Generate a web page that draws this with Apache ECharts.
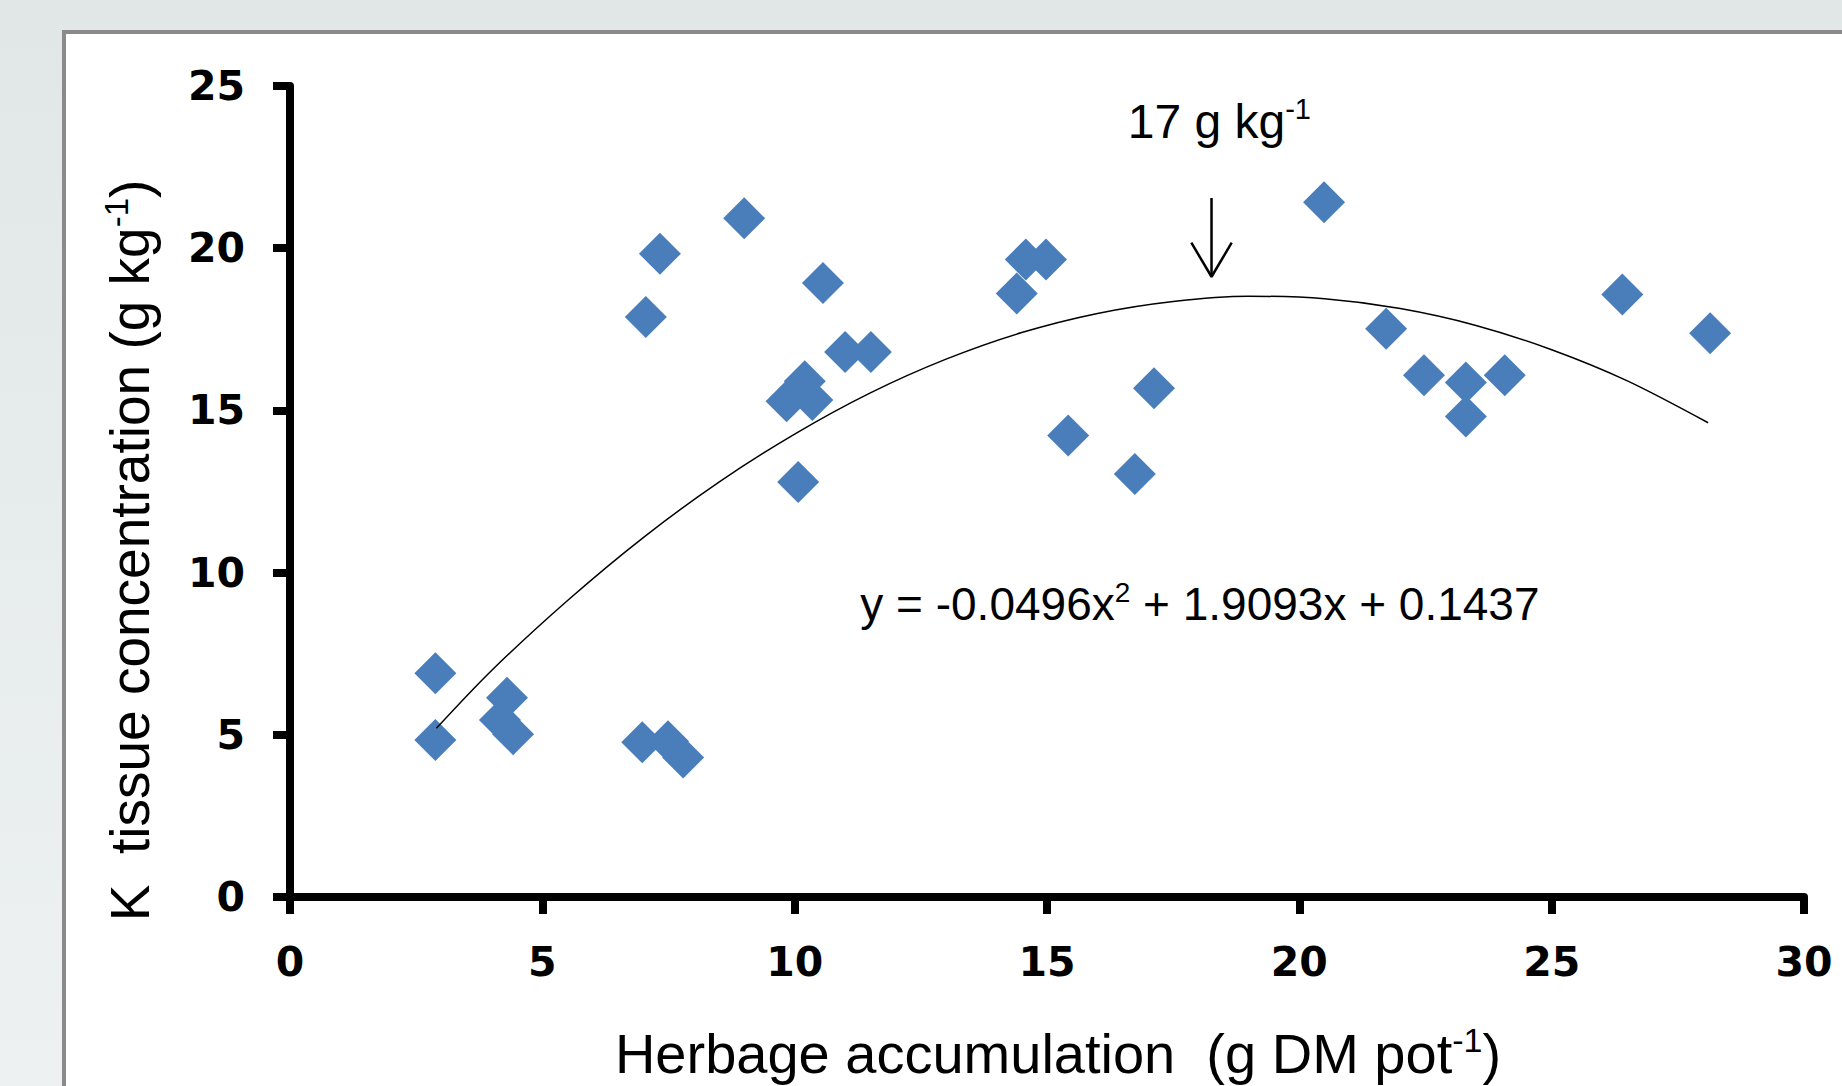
<!DOCTYPE html>
<html>
<head>
<meta charset="utf-8">
<script src="https://cdn.jsdelivr.net/npm/echarts@6/dist/echarts.min.js"></script>
<style>
  html, body { margin: 0; padding: 0; }
  body {
    width: 1842px; height: 1086px; overflow: hidden; position: relative;
    background: linear-gradient(to bottom, #e1e7e7, #edf1f1);
  }
  #panel {
    position: absolute; left: 62px; top: 30px; width: 1800px; height: 1100px;
    background: #fff; border-left: 4px solid #8a8a8a; border-top: 4px solid #8a8a8a;
  }
  #main { position: absolute; left: 0; top: 0; width: 1842px; height: 1086px; }
</style>
</head>
<body>
<div id="panel"></div>
<div id="main"></div>
<script>
// 散点：牧草积累量 x 与 K 组织浓度 y
const herbage = [2.88, 2.88, 4.30, 4.16, 4.42, 6.98, 7.49, 7.79, 7.05, 7.33, 9.0, 10.56,
  9.84, 10.2, 10.35, 10.07, 11.0, 11.51, 14.4, 14.58, 14.98, 15.42, 16.74, 17.12,
  20.49, 21.72, 22.47, 23.3, 23.3, 24.07, 26.4, 28.14];
const kConc = [6.9, 4.84, 6.14, 5.46, 5.02, 4.77, 4.8, 4.3, 17.88, 19.83, 20.92, 18.93,
  15.28, 15.9, 15.32, 12.79, 16.8, 16.8, 18.6, 19.65, 19.65, 14.23, 13.04, 15.68,
  21.42, 17.52, 16.08, 15.86, 14.81, 16.08, 18.57, 17.38];

// 趋势线上读出的点
const trendX = [2.9, 4, 5.5, 7, 8.5, 10, 11.5, 13, 14.5, 16, 17.5, 19, 20.5, 22, 23.5, 25, 26.5, 28.1];
const trendY = [5.2, 6.99, 9.14, 11.08, 12.79, 14.27, 15.54, 16.58, 17.4, 17.99, 18.36, 18.52,
  18.44, 18.14, 17.62, 16.87, 15.91, 14.62];

// 箭头（数据坐标）
const arrowShaft = [[18.26, 21.55], [18.26, 19.12]];
const arrowHead = [[17.86, 20.17], [18.26, 19.12], [18.66, 20.17]];

const peakLabel = '17 g kg';
const equation = 'y = -0.0496x';
const equationRest = ' + 1.9093x + 0.1437';

const chartDom = document.getElementById('main');
const myChart = echarts.init(chartDom, null, { renderer: 'svg' });

const axisFont = { fontFamily: 'DejaVu Sans', fontWeight: 'bold', fontSize: 41, color: '#000' };
const nameFont = 'Liberation Sans, Arial, sans-serif';

const option = {
  animation: false,
  backgroundColor: 'transparent',
  grid: { left: 290, right: 38, top: 86, bottom: 188 },
  xAxis: {
    type: 'value', min: 0, max: 30, interval: 5,
    splitLine: { show: false },
    axisLine: { onZero: false, lineStyle: { color: '#000', width: 8 } },
    axisTick: { length: 17, lineStyle: { color: '#000', width: 8 } },
    axisLabel: Object.assign({ margin: 44 }, axisFont),
    name: '{n|Herbage accumulation  (g DM pot}{s|-1}{n|)}',
    nameLocation: 'middle',
    nameGap: 126,
    nameTextStyle: {
      padding: [0, 0, 0, 22],
      rich: {
        n: { fontFamily: nameFont, fontSize: 56, color: '#000', lineHeight: 60 },
        s: { fontFamily: nameFont, fontSize: 34, color: '#000', verticalAlign: 'top', lineHeight: 60 }
      }
    }
  },
  yAxis: {
    type: 'value', min: 0, max: 25, interval: 5,
    splitLine: { show: false },
    axisLine: { onZero: false, lineStyle: { color: '#000', width: 8 } },
    axisTick: { length: 17, lineStyle: { color: '#000', width: 8 } },
    axisLabel: Object.assign({ margin: 45 }, axisFont),
    name: '{n|K  tissue concentration (g kg}{s|-1}{n|)}',
    nameLocation: 'middle',
    nameGap: 130,
    nameTextStyle: {
      padding: [0, 118, 0, 0],
      rich: {
        n: { fontFamily: nameFont, fontSize: 55, color: '#000', lineHeight: 60 },
        s: { fontFamily: nameFont, fontSize: 33, color: '#000', verticalAlign: 'top', lineHeight: 60 }
      }
    }
  },
  series: [
    {
      type: 'scatter',
      symbol: 'diamond',
      symbolSize: 42,
      itemStyle: { color: '#4a7ebb', opacity: 1 },
      data: herbage.map((x, i) => [x, kConc[i]]),
      z: 3
    },
    {
      type: 'line',
      smooth: 0.3,
      showSymbol: false,
      lineStyle: { color: '#000', width: 1.5 },
      data: trendX.map((x, i) => [x, trendY[i]]),
      z: 4
    },
    {
      type: 'line', showSymbol: false,
      lineStyle: { color: '#000', width: 2.5 },
      data: arrowShaft
    },
    {
      type: 'line', showSymbol: false,
      lineStyle: { color: '#000', width: 2.5 },
      data: arrowHead
    }
  ]
};

myChart.setOption(option);

// 文字注释按数据坐标定位
const p1 = myChart.convertToPixel({ gridIndex: 0 }, [16.6, 23.9]);
const p2 = myChart.convertToPixel({ gridIndex: 0 }, [11.3, 9.02]);
const annFont = 'Liberation Sans, Arial, sans-serif';
myChart.setOption({
  graphic: [
    {
      type: 'text', x: p1[0], y: p1[1],
      style: {
        text: '{n|' + peakLabel + '}{s|-1}',
        verticalAlign: 'middle', align: 'left',
        rich: {
          n: { fontFamily: annFont, fontSize: 48, fill: '#000', lineHeight: 54 },
          s: { fontFamily: annFont, fontSize: 29, fill: '#000', verticalAlign: 'top', lineHeight: 54 }
        }
      }
    },
    {
      type: 'text', x: p2[0], y: p2[1],
      style: {
        text: '{n|' + equation + '}{s|2}{n|' + equationRest + '}',
        verticalAlign: 'middle', align: 'left',
        rich: {
          n: { fontFamily: annFont, fontSize: 46, fill: '#000', lineHeight: 52 },
          s: { fontFamily: annFont, fontSize: 28, fill: '#000', verticalAlign: 'top', lineHeight: 52 }
        }
      }
    }
  ]
});
</script>
</body>
</html>
